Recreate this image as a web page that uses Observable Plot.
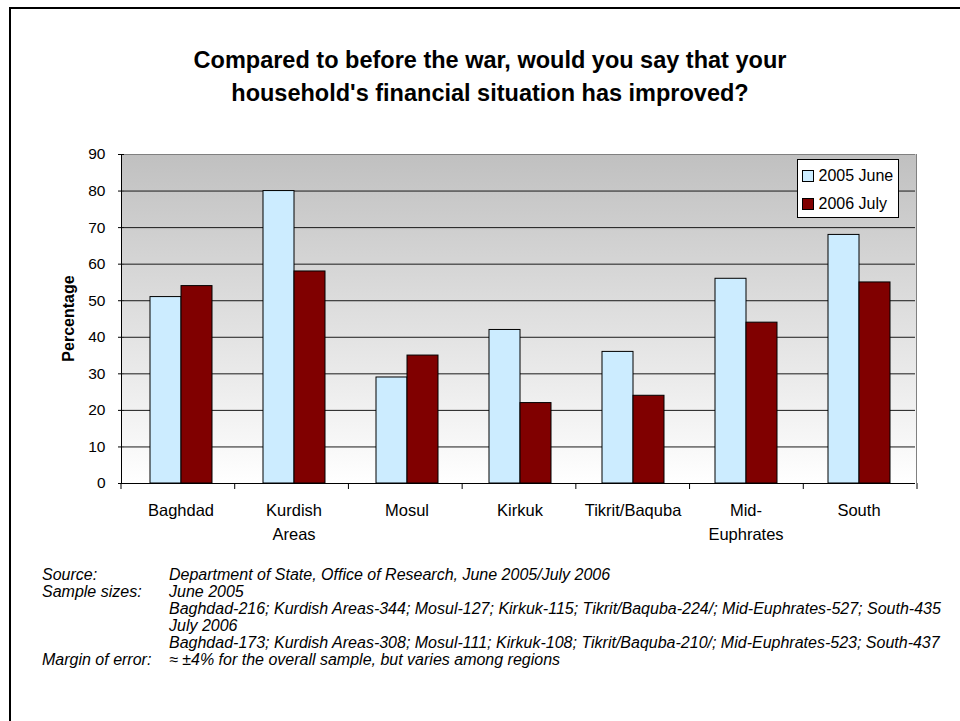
<!DOCTYPE html>
<html>
<head>
<meta charset="utf-8">
<script src="https://cdn.jsdelivr.net/npm/d3@7"></script>
<script src="https://cdn.jsdelivr.net/npm/@observablehq/plot@0.6"></script>
<style>
  html, body { margin: 0; padding: 0; background: #fff; }
  #chart { position: relative; width: 960px; height: 721px; overflow: hidden; }
  #chart svg { display: block; }
</style>
</head>
<body>
<div id="chart"></div>
<script>
// Survey regions and their wrapped axis labels
const regions = ["Baghdad", "Kurdish Areas", "Mosul", "Kirkuk", "Tikrit/Baquba", "Mid-Euphrates", "South"];
const regionLabels = [["Baghdad"], ["Kurdish", "Areas"], ["Mosul"], ["Kirkuk"], ["Tikrit/Baquba"], ["Mid-", "Euphrates"], ["South"]];

// Survey waves and share (%) saying the household's finances improved
const series = ["2005 June", "2006 July"];
const june2005 = [51, 80, 29, 42, 36, 56, 68];
const july2006 = [54, 58, 35, 22, 24, 44, 55];
const seriesColors = ["#ccecff", "#800000"];

const yTicks = [0, 10, 20, 30, 40, 50, 60, 70, 80, 90];

const titleLines = [
  "Compared to before the war, would you say that your",
  "household's financial situation has improved?"
];
const footnoteLabels = ["Source:", "Sample sizes:", "", "", "", "Margin of error:"];
const footnoteTexts = [
  "Department of State, Office of Research, June 2005/July 2006",
  "June 2005",
  "Baghdad-216; Kurdish Areas-344; Mosul-127; Kirkuk-115; Tikrit/Baquba-224/; Mid-Euphrates-527; South-435",
  "July 2006",
  "Baghdad-173; Kurdish Areas-308; Mosul-111; Kirkuk-108; Tikrit/Baquba-210/; Mid-Euphrates-523; South-437",
  "\u2248 \u00b14% for the overall sample, but varies among regions"
];

const rows = regions.flatMap((region, i) => [
  {region, series: series[0], value: june2005[i]},
  {region, series: series[1], value: july2006[i]}
]);

const W = 960, H = 721;
const mL = 121, mR = 43, mT = 154, mB = 238;
const font = "'Liberation Sans', Arial, Helvetica, sans-serif";

const hasAxisMark = typeof Plot.axisY === "function";

const chart = Plot.plot({
  width: W,
  height: H,
  marginLeft: mL,
  marginRight: mR,
  marginTop: mT,
  marginBottom: mB,
  style: {fontFamily: font, fontSize: "15px", color: "#000", background: "transparent", overflow: "visible"},
  fx: {domain: regions, padding: 0, axis: null, label: null},
  x: {domain: series, paddingInner: 0, paddingOuter: 0.78, axis: null},
  y: {domain: [0, 90], ticks: yTicks, tickSize: 6, tickPadding: 14, line: !hasAxisMark, label: null},
  color: {domain: series, range: seriesColors},
  marks: [
    Plot.ruleY(yTicks.filter(t => t > 0 && t < 90), {stroke: "#1a1a1a", strokeWidth: 1}),
    Plot.ruleY([90], {stroke: "#808080", strokeWidth: 1}),
    Plot.barY(rows, {fx: "region", x: "series", y: "value", fill: "series", stroke: "#000", strokeWidth: 1}),
    Plot.ruleY([0], {stroke: "#000", strokeWidth: 1}),
    hasAxisMark ? Plot.axisY({ticks: yTicks, tickSize: 6, tickPadding: 13, fontSize: 15.5, label: null, stroke: "#000", fill: "#000"}) : null,
    Plot.text(regions, {fx: d => d, text: (d, i) => regionLabels[i][0], frameAnchor: "bottom", dy: 32, fontSize: 16.5, fill: "#000"}),
    Plot.text(regions, {fx: d => d, text: (d, i) => regionLabels[i][1] ?? "", frameAnchor: "bottom", dy: 56, fontSize: 16.5, fill: "#000"})
  ]
});

document.getElementById("chart").appendChild(chart);

// Decorations placed with the same scales Plot used
const svg = d3.select(chart);
const ys = chart.scale("y");
const y = d3.scaleLinear(ys.domain, ys.range);
const xb = d3.scaleBand(regions, [mL, W - mR]);
const x0 = mL, x1 = W - mR;

// Plot-area background: grey at the top fading to white at zero
const defs = svg.insert("defs", ":first-child");
const grad = defs.append("linearGradient").attr("id", "plotBg").attr("x1", 0).attr("y1", 0).attr("x2", 0).attr("y2", 1);
grad.append("stop").attr("offset", "0%").attr("stop-color", "#c0c0c0");
grad.append("stop").attr("offset", "100%").attr("stop-color", "#ffffff");
svg.insert("rect", "defs + *")
  .attr("x", x0).attr("y", y(90)).attr("width", x1 - x0).attr("height", y(0) - y(90))
  .attr("fill", "url(#plotBg)");

// Left axis line and right edge of the plot area
if (hasAxisMark) {
  svg.append("line")
    .attr("x1", x0 + 0.5).attr("x2", x0 + 0.5).attr("y1", y(90)).attr("y2", y(0))
    .attr("stroke", "#000");
}
svg.append("line")
  .attr("x1", x1 - 0.5).attr("x2", x1 - 0.5).attr("y1", y(90)).attr("y2", y(0))
  .attr("stroke", "#808080");

// Category boundary ticks below the axis
const bounds = regions.map(r => xb(r)).concat([x1]);
svg.append("g").selectAll("line").data(bounds).join("line")
  .attr("x1", d => d).attr("x2", d => d)
  .attr("y1", y(0)).attr("y2", y(0) + 6)
  .attr("stroke", "#000");

// Outer chart border (left and top)
svg.append("path")
  .attr("d", `M10,${H} V8 H${W}`)
  .attr("fill", "none").attr("stroke", "#000").attr("stroke-width", 2);

// Title
svg.append("g").selectAll("text").data(titleLines).join("text")
  .attr("x", 490).attr("y", (d, i) => 68 + i * 33)
  .attr("text-anchor", "middle")
  .style("font", `bold 23.5px ${font}`)
  .attr("fill", "#000")
  .text(d => d);

// Y-axis title
svg.append("text")
  .attr("transform", `translate(74, ${(y(0) + y(90)) / 2}) rotate(-90)`)
  .attr("text-anchor", "middle")
  .style("font", `bold 16px ${font}`)
  .attr("fill", "#000")
  .text("Percentage");

// Legend
const lg = svg.append("g").attr("transform", "translate(797.5, 159.5)").attr("text-anchor", "start");
lg.append("rect").attr("width", 101).attr("height", 58).attr("fill", "#fff").attr("stroke", "#000");
series.forEach((s, i) => {
  lg.append("rect")
    .attr("x", 5).attr("y", 11 + i * 28).attr("width", 11).attr("height", 11)
    .attr("fill", seriesColors[i]).attr("stroke", "#000");
  lg.append("text")
    .attr("x", 21).attr("y", 21.5 + i * 28)
    .attr("text-anchor", "start")
    .style("font", `16px ${font}`)
    .attr("fill", "#000")
    .text(s);
});

// Footnotes
const fn = svg.append("g")
  .attr("text-anchor", "start")
  .style("font", `italic 16px ${font}`)
  .attr("fill", "#000");
footnoteTexts.forEach((t, i) => {
  const by = 580 + i * 17;
  if (footnoteLabels[i]) fn.append("text").attr("x", 42).attr("y", by).attr("text-anchor", "start").text(footnoteLabels[i]);
  fn.append("text").attr("x", 169).attr("y", by).attr("text-anchor", "start").text(t);
});
</script>
</body>
</html>
